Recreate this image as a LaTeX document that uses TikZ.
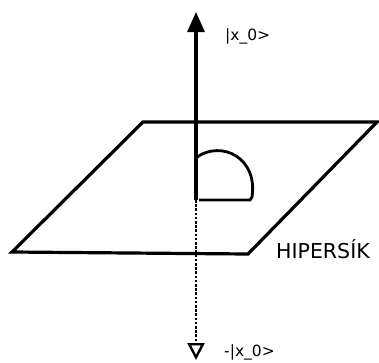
\documentclass[tikz,border=0pt]{standalone}
\usepackage{fontspec}
\setmainfont{DejaVu Sans}
\usetikzlibrary{arrows.meta}
\begin{document}
\begin{tikzpicture}[x=1pt,y=-1pt,
  thickline/.style={line width=3.2pt, line join=miter},
  lbl/.style={inner sep=0pt, anchor=west, font=\fontsize{15.5}{17}\selectfont},
  biglbl/.style={inner sep=0pt, anchor=west, font=\fontsize{20.5}{23}\selectfont}]
\useasboundingbox (0,0) rectangle (379,362);
% plane
\coordinate (p1) at (143,122);
\coordinate (p2) at (377,122);
\coordinate (p3) at (248,254);
\coordinate (p4) at (12,252);
\draw[thickline] (p1) -- (p2) -- (p3) -- (p4) -- cycle;
% axis
\coordinate (O) at (196,200);
\coordinate (T) at (196,12);
\coordinate (B) at (196,360);
\draw[thickline, -{Triangle[width=17pt,length=20pt]}] (O) -- (T);
\draw[line width=2.6pt, dash pattern=on 2.6pt off 1.6pt, -{Triangle[open,width=17pt,length=17pt,line width=2.4pt]}] (O) -- (B);
% angle mark
\coordinate (a1) at (197,157);
\coordinate (a2) at (252,197);
\coordinate (a3) at (199,200);
\draw[line width=2.8pt] (a1) .. controls (222,140) and (258,158) .. (a2) -- (250,200) -- (a3);
% labels
\node[lbl] (l1) at (225,36) {|x\_0>};
\node[lbl] (l2) at (224,352) {-|x\_0>};
\node[biglbl] (l3) at (276,249.5) {HIPERSÍK};
\end{tikzpicture}
\end{document}
